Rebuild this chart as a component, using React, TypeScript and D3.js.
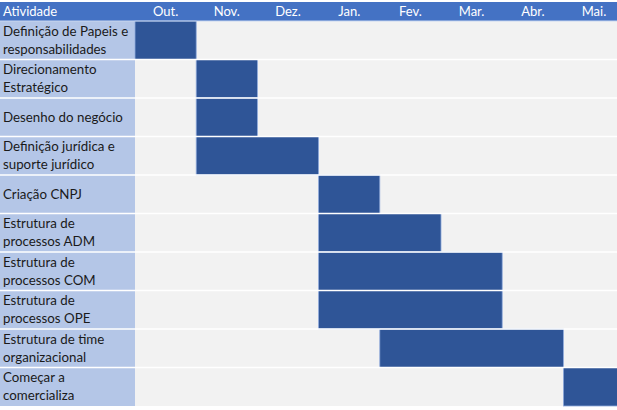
import React from "react";
import * as d3 from "d3";

const months = ["Out.", "Nov.", "Dez.", "Jan.", "Fev.", "Mar.", "Abr.", "Mai."];
const tasks = [
  ["Definição de Papeis e", "responsabilidades"],
  ["Direcionamento", "Estratégico"],
  ["Desenho do negócio"],
  ["Definição jurídica e", "suporte jurídico"],
  ["Criação CNPJ"],
  ["Estrutura de", "processos ADM"],
  ["Estrutura de", "processos COM"],
  ["Estrutura de", "processos OPE"],
  ["Estrutura de time", "organizacional"],
  ["Começar a", "comercializa"],
];
const startMonth = [0, 1, 1, 1, 3, 3, 3, 3, 4, 7];
const endMonth = [1, 2, 2, 3, 4, 5, 6, 6, 7, 8];
const headerLabel = "Atividade";

const W = 617;
const H = 410;
const FONT = "Lato, 'Open Sans', sans-serif";

export default function App() {
  const top = 2;
  const headerBottom = 21;
  const bottom = 406;
  const labelW = 135;
  const colW = 61.2;

  const y = d3
    .scaleBand<number>()
    .domain(d3.range(tasks.length))
    .range([headerBottom, bottom])
    .paddingInner(0)
    .paddingOuter(0);
  const x = d3
    .scaleLinear()
    .domain([0, months.length])
    .range([labelW, labelW + colW * months.length]);

  const rh = y.bandwidth();

  return (
    <svg
      width={W}
      height={H}
      style={{ position: "absolute", left: 0, top: 0, background: "#fff" }}
      fontFamily={FONT}
    >
      {/* header */}
      <rect x={0} y={top} width={W} height={headerBottom - top} fill="#4472C4" />
      <text x={3} y={(top + headerBottom) / 2 + 4.6} fill="#fff" fontSize={13}>
        {headerLabel}
      </text>
      {months.map((m, i) => (
        <text
          key={m}
          x={x(i + 0.5)}
          y={(top + headerBottom) / 2 + 4.6}
          fill="#fff"
          fontSize={13}
          textAnchor="middle"
        >
          {m}
        </text>
      ))}
      {/* grid background */}
      <rect x={labelW} y={headerBottom} width={W - labelW} height={bottom - headerBottom} fill="#F2F2F2" />
      {/* rows */}
      {tasks.map((lines, i) => {
        const y0 = y(i)!;
        const cy = y0 + rh / 2;
        return (
          <g key={i}>
            <rect x={0} y={y0} width={labelW} height={rh} fill="#B4C6E7" />
            <rect
              x={x(startMonth[i])}
              y={y0}
              width={x(endMonth[i]) - x(startMonth[i])}
              height={rh}
              fill="#2F5597"
              stroke="#8FAADC"
              strokeWidth={0.8}
            />
            {lines.map((t, j) => (
              <text
                key={j}
                x={3}
                y={cy + 4.7 + (lines.length === 1 ? 0 : j === 0 ? -9 : 9)}
                fill="#1a1a1a"
                fontSize={13.3}
              >
                {t}
              </text>
            ))}
          </g>
        );
      })}
      {/* row separators */}
      {d3.range(1, tasks.length).map((i) => (
        <line
          key={i}
          x1={0}
          x2={W}
          y1={y(i)!}
          y2={y(i)!}
          stroke="#fff"
          strokeWidth={1.5}
        />
      ))}
      <line x1={0} x2={W} y1={headerBottom} y2={headerBottom} stroke="#C9D7F0" strokeWidth={1} />
    </svg>
  );
}
